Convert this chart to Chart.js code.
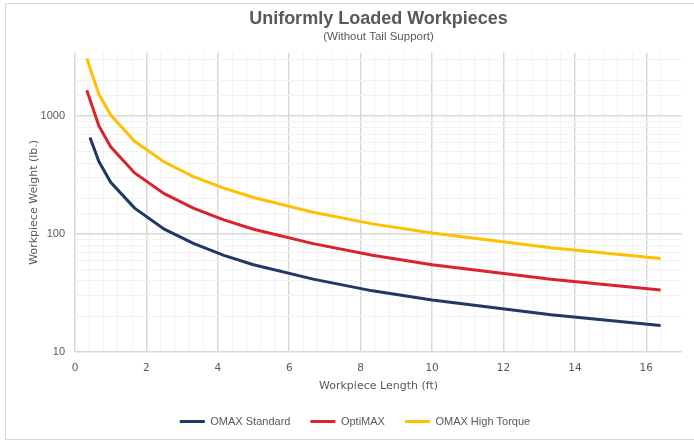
<!DOCTYPE html>
<html>
<head>
<meta charset="utf-8">
<script src="https://cdn.jsdelivr.net/npm/chart.js@4/dist/chart.umd.min.js"></script>
<style>
  html, body { margin: 0; padding: 0; background: #fff; }
  #wrap { width: 694px; height: 442px; }
</style>
</head>
<body>
<div id="wrap"><canvas id="chart" width="694" height="442"></canvas></div>
<script>
// workpiece length (ft) for each point
const standardLength = [0.42, 0.67, 1, 1.67, 2.5, 3.33, 4.17, 5, 6.67, 8.33, 10, 13.33, 16.4];
const optimaxLength = [0.33, 0.67, 1, 1.67, 2.5, 3.33, 4.17, 5, 6.67, 8.33, 10, 13.33, 16.4];
const highTorqueLength = [0.33, 0.67, 1, 1.67, 2.5, 3.33, 4.17, 5, 6.67, 8.33, 10, 13.33, 16.4];

// max workpiece weight (lb.)
const standardWeight = [660, 412, 275, 166, 110, 83, 66, 55, 41.5, 33, 27.6, 20.7, 16.8];
const optimaxWeight = [1660, 825, 550, 330, 220, 165, 132, 110, 83, 66, 55, 41.3, 33.5];
const highTorqueWeight = [3080, 1530, 1020, 612, 408, 306, 245, 204, 153, 122, 102, 76.5, 62];

const seriesNames = ['OMAX Standard', 'OptiMAX', 'OMAX High Torque'];
const seriesColors = ['#1f3864', '#d9232d', '#ffc000'];
const yTickLabels = [10, 100, 1000];

const toPoints = (xs, ys) => xs.map((x, i) => ({ x: x, y: ys[i] }));

const textGray = '#595959';
const majorGrid = '#d9d9d9';
const minorGrid = '#f2f2f2';
const hidden = 'rgba(0,0,0,0)';

const isEvenInt = (v) => {
    const r = Math.round(v);
    return Math.abs(v - r) < 1e-6 && r % 2 === 0;
};
const isLast = (c) => c.index === c.scale.ticks.length - 1;

// light frame around the whole chart, legend nudged right like the original
const framePlugin = {
    id: 'frame',
    afterLayout(chart) {
        chart.legend.left += 14;
        chart.legend.right += 14;
    },
    beforeDraw(chart) {
        const ctx = chart.ctx;
        ctx.save();
        ctx.strokeStyle = '#d9d9d9';
        ctx.lineWidth = 1;
        ctx.strokeRect(5.5, 3.5, 720, 436);
        ctx.restore();
    }
};

const ctx = document.getElementById('chart').getContext('2d');
new Chart(ctx, {
    type: 'scatter',
    data: {
        datasets: [
            { label: seriesNames[0], data: toPoints(standardLength, standardWeight) },
            { label: seriesNames[1], data: toPoints(optimaxLength, optimaxWeight) },
            { label: seriesNames[2], data: toPoints(highTorqueLength, highTorqueWeight) }
        ].map((d, i) => ({
            ...d,
            showLine: true,
            borderColor: seriesColors[i],
            backgroundColor: seriesColors[i],
            borderWidth: 3,
            pointRadius: 0,
            pointHoverRadius: 0,
            tension: 0
        }))
    },
    options: {
        responsive: false,
        animation: false,
        layout: { padding: { left: 0, right: 12, top: 0, bottom: 5 } },
        scales: {
            x: {
                type: 'linear',
                min: 0,
                max: 17,
                afterFit: (scale) => { scale.height = 44; },
                ticks: {
                    stepSize: 0.4,
                    padding: 10,
                    maxRotation: 0,
                    autoSkip: false,
                    color: textGray,
                    font: { family: 'DejaVu Sans', size: 10.5 },
                    callback: (v) => isEvenInt(v) ? String(Math.round(v)) : ''
                },
                grid: {
                    drawTicks: false,
                    color: (c) => isLast(c) ? hidden : (isEvenInt(c.tick.value) ? majorGrid : minorGrid),
                    lineWidth: (c) => isEvenInt(c.tick.value) ? 1.5 : 1
                },
                border: { display: false },
                title: {
                    display: true,
                    text: 'Workpiece Length (ft)',
                    color: textGray,
                    font: { family: 'DejaVu Sans', size: 11 },
                    padding: { top: 0, bottom: 3 }
                }
            },
            y: {
                type: 'logarithmic',
                min: 10,
                max: 3450,
                afterFit: (scale) => { scale.width = 75; },
                ticks: {
                    padding: 10,
                    autoSkip: false,
                    color: textGray,
                    font: { family: 'Liberation Sans', size: 11 },
                    callback: (v) => yTickLabels.includes(Math.round(v)) ? String(Math.round(v)) : ''
                },
                grid: {
                    drawTicks: false,
                    color: (c) => {
                        if (isLast(c) || c.tick.value > 3100) return hidden;
                        return yTickLabels.includes(Math.round(c.tick.value)) ? majorGrid : minorGrid;
                    },
                    lineWidth: (c) => yTickLabels.includes(Math.round(c.tick.value)) ? 1.5 : 1
                },
                border: { display: false },
                title: {
                    display: true,
                    text: 'Workpiece Weight (lb.)',
                    color: textGray,
                    font: { family: 'DejaVu Sans', size: 11 },
                    padding: { top: 28, bottom: 0 }
                }
            }
        },
        plugins: {
            title: {
                display: true,
                fullSize: false,
                text: 'Uniformly Loaded Workpieces',
                color: textGray,
                font: { family: 'Liberation Sans', size: 18, weight: 'bold' },
                padding: { top: 8, bottom: 0 }
            },
            subtitle: {
                display: true,
                fullSize: false,
                text: '(Without Tail Support)',
                color: textGray,
                font: { family: 'Liberation Sans', size: 11.5 },
                padding: { top: 0.5, bottom: 8.8 }
            },
            legend: {
                display: true,
                position: 'bottom',
                labels: {
                    boxWidth: 25,
                    boxHeight: 3,
                    padding: 20,
                    color: textGray,
                    font: { family: 'Liberation Sans', size: 11 },
                    generateLabels: (chart) => {
                        const items = Chart.defaults.plugins.legend.labels.generateLabels(chart);
                        return items.map((it) => ({ ...it, lineWidth: 0, fillStyle: it.strokeStyle }));
                    }
                }
            },
            tooltip: { enabled: false }
        }
    },
    plugins: [framePlugin]
});
</script>
</body>
</html>
